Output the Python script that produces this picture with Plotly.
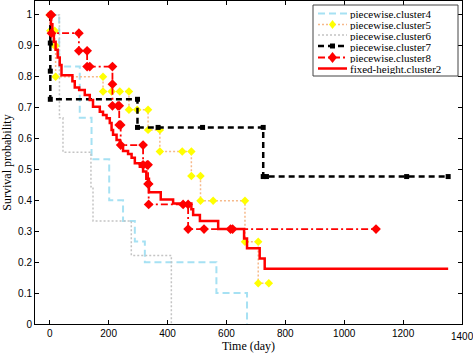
import plotly.graph_objects as go

# ---- data ----
# piecewise.cluster4 : step curve (time, survival after step)
c4_t = [0, 32, 102, 142, 202, 249, 289, 323, 566, 670]
c4_s = [1.0, 0.833, 0.667, 0.533, 0.400, 0.333, 0.267, 0.200, 0.100, 0.0]

# piecewise.cluster5 : stair vertices incl. censor marks
c5_x = [0, 2, 2, 17, 17, 20, 20, 181, 181, 210, 238, 269, 269, 297, 334, 334, 374, 374,
        450, 481, 481, 512, 512, 555, 663, 663, 708, 708, 744]
c5_y = [1.0, 1.0, 0.949, 0.949, 0.900, 0.900, 0.800, 0.800, 0.752, 0.752, 0.752, 0.752,
        0.693, 0.693, 0.693, 0.628, 0.628, 0.558, 0.558, 0.558, 0.479, 0.479, 0.399,
        0.399, 0.399, 0.266, 0.266, 0.132, 0.132]

# piecewise.cluster6 : step curve
c6_t = [0, 33, 45, 140, 147, 277, 413]
c6_s = [1.0, 0.667, 0.556, 0.444, 0.333, 0.222, 0.0]

# piecewise.cluster7 : stair vertices incl. censor marks
c7_x = [2, 2, 2, 2, 298, 298, 368, 519, 725, 725, 736, 1212, 1353]
c7_y = [1.0, 0.909, 0.818, 0.727, 0.727, 0.636, 0.636, 0.636, 0.636, 0.477, 0.477, 0.477, 0.477]

# piecewise.cluster8 : stair vertices incl. censor marks
c8_x = [2, 6, 6, 99, 99, 127, 127, 136, 213, 213, 213, 232, 236, 236, 241, 241, 317, 317,
        331, 334, 334, 336, 336, 453, 470, 470, 524, 614, 621, 1108]
c8_y = [1.0, 1.0, 0.941, 0.941, 0.884, 0.884, 0.833, 0.833, 0.833, 0.776, 0.706, 0.706,
        0.706, 0.644, 0.644, 0.579, 0.579, 0.515, 0.515, 0.515, 0.453, 0.453, 0.387,
        0.387, 0.387, 0.307, 0.307, 0.307, 0.307, 0.307]

# fixed-height.cluster2 : step curve
fh_t = [0, 4, 9, 14, 20, 27, 34, 40, 77, 85, 100, 119, 136, 147, 170, 181, 193, 204, 210,
        215, 227, 238, 249, 266, 278, 289, 306, 317, 328, 337, 377, 419, 481, 487, 510,
        572, 660, 670, 713, 730, 1353]
fh_s = [1.0, 0.970, 0.941, 0.913, 0.887, 0.862, 0.838, 0.805, 0.785, 0.765, 0.757, 0.741,
        0.725, 0.703, 0.687, 0.676, 0.666, 0.650, 0.628, 0.612, 0.595, 0.575, 0.560, 0.550,
        0.538, 0.520, 0.509, 0.493, 0.470, 0.426, 0.403, 0.390, 0.371, 0.353, 0.333,
        0.307, 0.277, 0.245, 0.212, 0.179, 0.179]

x_ticks = [0, 200, 400, 600, 800, 1000, 1200, 1400]
y_ticks = [0, 0.1, 0.2, 0.3, 0.4, 0.5, 0.6, 0.7, 0.8, 0.9, 1]
y_labels = ["0", "0.1", "0.2", "0.3", "0.4", "0.5", "0.6", "0.7", "0.8", "0.9", "1"]

series_names = ["piecewise.cluster4", "piecewise.cluster5", "piecewise.cluster6",
                "piecewise.cluster7", "piecewise.cluster8", "fixed-height.cluster2"]

# ---- styles ----
C4 = dict(color="#a6e1f3", width=2, dash="7px,4px")
C5 = dict(color="#f6b98a", width=1.5, dash="2px,2px")
C6 = dict(color="#c4c4c4", width=1.5, dash="2px,2px")
C7 = dict(color="black", width=2.5, dash="6px,4px")
C8 = dict(color="#ff0000", width=1.8, dash="7px,3px,2px,3px")
FH = dict(color="#ff0000", width=2.5)
TICK_FONT = dict(family="Liberation Sans", size=10, color="black")

fig = go.Figure()
fig.add_trace(go.Scatter(x=c4_t, y=c4_s, mode="lines", line_shape="hv",
                         name=series_names[0], line=C4))
fig.add_trace(go.Scatter(x=c5_x, y=c5_y, mode="lines+markers", name=series_names[1], line=C5,
                         marker=dict(symbol="diamond", size=6.5, color="#ffff00",
                                     line=dict(width=0))))
fig.add_trace(go.Scatter(x=c6_t, y=c6_s, mode="lines", line_shape="hv",
                         name=series_names[2], line=C6))
fig.add_trace(go.Scatter(x=c7_x, y=c7_y, mode="lines+markers", name=series_names[3], line=C7,
                         marker=dict(symbol="square", size=5, color="black")))
fig.add_trace(go.Scatter(x=c8_x, y=c8_y, mode="lines+markers", name=series_names[4], line=C8,
                         marker=dict(symbol="diamond", size=7.5, color="#ff0000",
                                     line=dict(width=0))))
fig.add_trace(go.Scatter(x=fh_t, y=fh_s, mode="lines", line_shape="hv",
                         name=series_names[5], line=FH))

# ---- layout geometry ----
W, H = 473, 355
ML, MR, MT, MB = 35, 11, 1, 31
PW, PH = W - ML - MR, H - MT - MB


def px_x(px):
    return (px - ML) / PW


def px_y(py):
    return (H - MB - py) / PH


axis_common = dict(showgrid=False, zeroline=False, showline=True, linecolor="black",
                   linewidth=1, mirror="ticks", ticks="inside", ticklen=4,
                   tickcolor="black", automargin=False, tickfont=TICK_FONT)

# the last tick label sits on the page edge, where plotly hides it: draw it as an annotation
fig.update_xaxes(range=[-50, 1400], tickvals=x_ticks[:-1],
                 title=dict(text="Time (day)", standoff=2,
                            font=dict(family="Liberation Serif", size=12, color="black")),
                 **axis_common)
fig.update_yaxes(range=[0, 1.045], tickvals=y_ticks, ticktext=y_labels,
                 title=dict(text="Survival probability", standoff=4,
                            font=dict(family="Liberation Serif", size=12, color="black")),
                 **axis_common)

shapes = []
annotations = [dict(text=str(x_ticks[-1]), xref="x", yref="paper", x=x_ticks[-1],
                    y=px_y(336), xanchor="center", yanchor="middle", showarrow=False,
                    borderpad=0, font=TICK_FONT)]

# ---- hand-drawn legend box (compact, like the reference) ----
box = dict(x0=313, x1=458, y0=5, y1=76)
shapes.append(dict(type="rect", xref="paper", yref="paper", layer="above",
                   x0=px_x(box["x0"]), x1=px_x(box["x1"]),
                   y0=px_y(box["y1"]), y1=px_y(box["y0"]),
                   fillcolor="white", line=dict(color="#444444", width=1)))
row_y = [13.5, 24.5, 35, 46, 57.5, 68.5]
styles = [C4, C5, C6, C7, C8, FH]
markers = [None, ("diamond", "#ffff00", 3.5, 4.5), None, ("square", "black", 2.5, 2.5),
           ("diamond", "#ff0000", 4.5, 5.5), None]
for i, name in enumerate(series_names):
    yy = px_y(row_y[i])
    shapes.append(dict(type="line", xref="paper", yref="paper", layer="above",
                       x0=px_x(318), x1=px_x(347), y0=yy, y1=yy, line=styles[i]))
    mk = markers[i]
    if mk is not None:
        sym, col, hw, hh = mk
        if sym == "diamond":
            path = f"M{-hw},0 L0,{-hh} L{hw},0 L0,{hh} Z"
        else:
            path = f"M{-hw},{-hh} L{hw},{-hh} L{hw},{hh} L{-hw},{hh} Z"
        shapes.append(dict(type="path", xref="paper", yref="paper", layer="above",
                           xsizemode="pixel", ysizemode="pixel",
                           xanchor=px_x(332.5), yanchor=yy, path=path,
                           fillcolor=col, line=dict(width=0)))
    annotations.append(dict(text=name, xref="paper", yref="paper", x=px_x(349), y=yy,
                            xanchor="left", yanchor="middle", showarrow=False,
                            height=11, valign="middle", borderpad=0,
                            font=dict(family="Liberation Serif", size=11, color="black")))

fig.update_layout(
    width=W, height=H,
    margin=dict(l=ML, r=MR, t=MT, b=MB, autoexpand=False),
    paper_bgcolor="white", plot_bgcolor="white",
    showlegend=False,
    shapes=shapes, annotations=annotations,
)

post = "document.body.style.margin='0';document.body.style.padding='0';"
fig.write_html("out.html", config={"displayModeBar": False}, post_script=post)
